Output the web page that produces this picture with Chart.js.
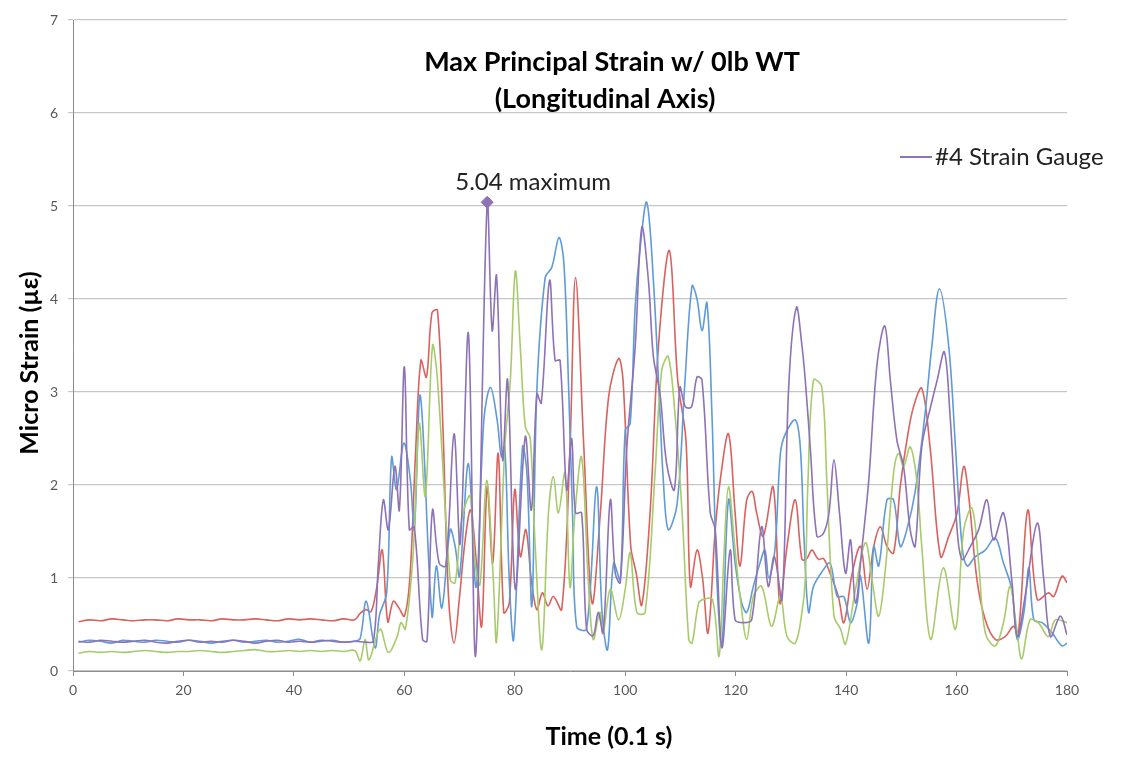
<!DOCTYPE html>
<html>
<head>
<meta charset="utf-8">
<script src="https://cdn.jsdelivr.net/npm/chart.js@4.4.1/dist/chart.umd.min.js"></script>
<style>
  html, body { margin: 0; padding: 0; background: #fff; }
  #wrap { position: relative; width: 1123px; height: 769px; }
</style>
</head>
<body>
<div id="wrap"><canvas id="strainChart"></canvas></div>
<script>
// [time (0.1 s), micro strain] pairs
const gauge1 = [[1,0.53],[3,0.55],[5,0.54],[7,0.56],[9,0.55],[11,0.54],[13,0.55],[15,0.55],[17,0.54],[19,0.56],[21,0.55],[23,0.55],[25,0.54],[27,0.56],[29,0.55],[31,0.55],[33,0.56],[35,0.55],[37,0.54],[39,0.56],[41,0.55],[43,0.56],[45,0.55],[47,0.54],[49,0.56],[51,0.55],
  [52,0.62],[53,0.66],[54,0.64],[55,0.9],[56,1.3],[57,0.53],[58,0.75],[59,0.68],[60,0.59],[61,1.0],[62,2.3],[63,3.34],[64,3.16],[65,3.85],[66,3.88],[67,2.6],[68,0.8],[69,0.3],[70,0.8],[71,1.4],
  [72,1.73],[73,1.2],[74,0.48],[75,1.98],[76,1.16],[77,2.34],[78,0.63],[79,0.73],[80,1.95],[81,1.23],[82,1.52],[83,0.98],[84,0.66],[85,0.84],[86,0.7],[87,0.8],
  [88.5,0.66],[90,2.41],[91,4.23],[92.5,2.41],[94,0.73],[95.5,1.7],[97,2.95],[98.8,3.36],[99.6,3.13],[101,1.34],[102,1.05],[103,0.71],[104.5,1.7],[106,3.48],[108,4.52],[109.5,3.13],[111,2.48],
  [111.8,0.91],[113,1.3],[114,1.0],[115,0.41],[116.3,1.52],[117.2,2.05],[118.7,2.55],[119.9,1.7],[120.8,1.13],[122,1.84],[123,1.93],[123.8,1.7],[125,1.45],[126.8,1.98],[128,0.73],[129.3,1.34],[130.8,1.84],[132,1.2],
  [132.9,1.21],[133.8,1.3],[135,1.2],[135.9,1.21],[137.1,1.05],[138.6,0.8],[139.6,0.52],[141.1,1.05],[142.6,1.34],[143.8,0.88],[145,1.34],[146.2,1.55],[147.4,1.34],[148.6,1.27],[149.8,1.98],[151,2.48],[152.2,2.84],
  [153.7,3.04],[155.2,2.41],[157.1,1.23],[158.6,1.45],[160.1,1.7],[161.3,2.2],[162.2,1.88],[163.7,0.98],[165.2,0.55],[167,0.34],[168.8,0.37],[170.3,0.48],[171.2,0.41],[172.9,1.73],[174.6,0.77],[176.7,0.84],[177.6,0.8],[179.1,1.02],[180,0.95]];

const gauge2 = [[1,0.31],[3,0.33],[5,0.32],[7,0.30],[9,0.33],[11,0.32],[13,0.31],[15,0.33],[17,0.32],[19,0.31],[21,0.33],[23,0.32],[25,0.30],[27,0.32],[29,0.33],[31,0.31],[33,0.32],[35,0.33],[37,0.31],[39,0.32],[41,0.34],[43,0.31],[45,0.32],[47,0.33],[49,0.31],[51,0.32],[52,0.35],
  [53.1,0.75],[54.7,0.25],[55.5,0.6],[56.8,0.84],[57.7,2.3],[58.6,1.95],[59.9,2.45],[61.1,2.05],[61.8,1.52],[62.9,2.96],[65,0.59],[65.8,1.13],[66.8,0.68],[68.3,1.52],[69.2,1.34],[70,1.02],[71.6,2.23],[73,0.9],
  [74.4,2.7],[75.6,3.05],[76.8,2.7],[77.6,2.3],[78.2,2.41],[79,0.98],[79.8,0.34],[81.4,2.41],[82.2,2.13],[83.1,0.7],[84,3.02],[85.5,4.23],[86.7,4.34],[88,4.66],[88.9,4.38],[89.8,2.95],[90.5,1.6],[91.2,0.48],
  [93,0.45],[94.8,1.98],[95.8,0.63],[96.8,0.23],[97.9,1.16],[99.1,0.98],[100,2.59],[100.9,2.66],[101.8,3.91],[102.7,4.55],[103.9,5.04],[105.1,4.2],[106.3,2.77],[106.9,2.05],[107.8,1.52],[109.4,1.8],[110.8,3.1],
  [112.1,4.14],[113,4.0],[113.9,3.66],[114.8,3.96],[115.7,2.77],[116.6,0.98],[117.5,0.27],[118.7,1.84],[119.9,1.16],[121.1,0.73],[122,0.63],[123.2,0.91],[124.4,1.16],[125.3,1.3],[126,1.0],[127.1,1.3],[128.1,2.34],[129,2.55],[130.8,2.7],[131.7,2.41],[132.4,1.4],
  [133.2,0.63],[134.1,0.91],[135.9,1.09],[137.1,1.16],[138.4,0.8],[139.6,0.8],[140.8,0.52],[142,0.73],[142.6,1.02],[144.1,0.3],[145,1.34],[145.9,1.13],[147.4,1.84],[148.6,1.84],[149.8,1.34],[151,1.52],[152.5,1.93],
  [154.3,2.77],[155.5,3.48],[156.9,4.11],[158.6,3.48],[159.8,2.41],[161,1.34],[161.9,1.13],[163.4,1.23],[165.2,1.3],[167,1.43],[168.5,1.16],[170,0.88],[171,0.34],[172.2,0.63],[173.1,1.11],[174,0.55],[175.5,0.52],[177.3,0.41],[179.1,0.27],[180,0.3]];

const gauge3 = [[1,0.19],[3,0.21],[5,0.20],[7,0.21],[9,0.20],[11,0.21],[13,0.22],[15,0.21],[17,0.20],[19,0.21],[21,0.21],[23,0.22],[25,0.21],[27,0.20],[29,0.21],[31,0.22],[33,0.23],[35,0.21],[37,0.21],[39,0.22],[41,0.21],[43,0.22],[45,0.21],[47,0.22],[49,0.21],[51,0.22],
  [52,0.11],[52.9,0.34],[53.6,0.12],[55.6,0.45],[57.1,0.2],[58.7,0.37],[59.4,0.52],[60.2,0.45],[61.6,1.27],[62.7,2.66],[63.8,1.88],[65.1,3.5],[66,3.13],[68.3,0.98],[69.2,0.95],[70.4,1.63],[71.9,1.88],[72.8,1.16],[73.7,0.93],
  [74.9,2.05],[76.1,1.0],[76.7,0.32],[78.2,2.41],[79.2,3.13],[80.1,4.3],[81,3.48],[81.9,2.63],[82.8,2.5],[83.7,1.34],[84.9,0.23],[86.1,1.7],[87,2.09],[87.9,1.7],[89.1,2.13],[90,0.9],[90.9,1.7],
  [92.1,2.3],[93.3,0.98],[94.2,0.34],[95.4,0.63],[96,0.41],[97.3,0.88],[98.8,0.55],[100,0.88],[100.9,1.27],[102.1,0.63],[103.6,0.63],[105.4,2.13],[106.6,3.23],[107.8,3.38],[109,2.77],[110.3,1.7],[111.5,0.34],
  [112.1,0.3],[113.3,0.73],[114.2,0.77],[115.8,0.77],[117,0.16],[117.9,1.27],[118.7,1.98],[119.9,1.3],[120.8,0.8],[122,0.34],[123.2,0.8],[124.7,0.91],[126.5,0.48],[128.1,0.8],[129.3,0.37],[130.8,0.3],[132,0.63],
  [132.6,0.98],[133.1,2.05],[134.1,3.13],[135.6,3.05],[136.5,2.05],[137.8,0.59],[139,0.45],[139.9,0.29],[141.7,0.88],[143.5,1.38],[144.7,0.98],[145.9,0.59],[147.1,1.09],[148.6,2.13],[149.5,2.34],[150.4,2.2],[151.6,2.41],[152.8,2.05],
  [153.7,1.34],[155.3,0.34],[157.6,1.11],[159.8,0.45],[161.3,1.52],[162.8,1.75],[164,1.16],[165.2,0.41],[167,0.27],[168.5,0.52],[169.7,0.91],[170.9,0.45],[171.8,0.13],[173.3,0.55],[174.8,0.52],[176.6,0.37],[177.9,0.55],[180,0.52]];

const gauge4 = [[1,0.32],[3,0.31],[5,0.33],[7,0.32],[9,0.31],[11,0.32],[13,0.33],[15,0.31],[17,0.30],[19,0.32],[21,0.33],[23,0.31],[25,0.32],[27,0.31],[29,0.33],[31,0.32],[33,0.30],[35,0.32],[37,0.33],[39,0.31],[41,0.32],[43,0.31],[45,0.33],[47,0.32],[49,0.31],[51,0.32],[53,0.31],[54.4,0.32],
  [55.3,1.16],[56.2,1.84],[57.1,1.52],[58.3,2.2],[59.1,1.73],[60,3.27],[60.9,1.52],[61.8,1.55],[63.3,0.34],[64.1,0.32],[65.1,1.73],[66.3,1.16],[67.5,1.13],[69,2.55],[70.1,1.37],[71.6,3.63],[72.9,0.16],
  [75,5.04],[75.9,3.66],[76.7,4.25],[77.8,2.27],[78.7,3.13],[80.1,0.88],[81.9,2.52],[83,1.73],[84,2.98],[84.8,2.88],[86.3,4.2],[87.3,3.34],[88.2,3.34],[89.4,1.95],[90.3,2.5],
  [91,1.7],[92.1,1.7],[93,0.45],[94.2,0.38],[95.1,0.63],[96,0.41],[97.3,1.84],[98.2,1.05],[99.1,0.95],[100.3,2.41],[101.8,3.48],[103,4.77],[104.2,4.2],[105.1,3.38],[106.3,2.98],[107.5,2.23],[108.9,1.95],[109.9,3.05],
  [110.9,2.84],[112,2.84],[113,3.16],[113.9,3.13],[115.4,1.7],[116.3,1.52],[117.5,0.25],[119,1.3],[119.9,0.55],[121.4,0.52],[122.9,0.55],[124.7,1.55],[125.9,0.91],[127,1.23],[128.4,0.77],[129.6,3.05],[131,3.91],
  [132,3.5],[132.6,3.13],[133.5,2.41],[134.7,1.45],[135.9,1.48],[136.9,1.7],[137.8,2.27],[138.8,1.7],[139.9,1.05],[140.8,1.41],[141.7,0.73],[142.9,1.34],[144.1,2.05],[145.6,3.3],[147,3.71],[148,3.13],[149.2,2.48],[150.4,2.2],[151.6,1.52],[152.5,1.34],
  [153.7,2.41],[155.3,2.84],[156.5,3.13],[157.8,3.43],[158.8,2.77],[160.1,1.52],[161,1.2],[162.5,1.34],[164,1.52],[165.5,1.84],[166.7,1.41],[168.5,1.7],[170,0.98],[171,0.37],[172.4,0.8],[174.6,1.59],[175.8,0.98],[177,0.37],[178.8,0.59],[180,0.39]];

const maxPoint = [75, 5.04];
const maxLabel = '5.04 maximum';
const titleLines = ['Max Principal Strain w/ 0lb WT', '(Longitudinal Axis)'];
const legendLabel = '#4 Strain Gauge';
const xTitle = 'Time (0.1 s)';
const yTitle = 'Micro Strain (\u00b5\u03b5)';
const yTicks = [0, 1, 2, 3, 4, 5, 6, 7];
const xTicks = [0, 20, 40, 60, 80, 100, 120, 140, 160, 180];

const RED = '#d9625e';
const BLUE = '#5f9bd6';
const GREEN = '#a7cb6b';
const PURPLE = '#8d72b6';
const FONT = 'Lato, "Open Sans", sans-serif';

function toPoints(pairs) {
    return pairs.map(function(p) { return { x: p[0], y: p[1] }; });
}

function lineSet(pairs, color) {
    return {
        data: toPoints(pairs),
        borderColor: color,
        backgroundColor: color,
        borderWidth: 1.6,
        pointRadius: 0,
        tension: 0.35,
        fill: false
    };
}

const overlayText = {
    id: 'overlayText',
    afterDraw: function(chart) {
        const ctx = chart.ctx;
        const xs = chart.scales.x;
        const ys = chart.scales.y;
        ctx.save();
        ctx.fillStyle = '#000';
        ctx.textAlign = 'center';
        ctx.textBaseline = 'middle';
        ctx.font = 'bold 27px ' + FONT;
        ctx.fillText(titleLines[0], 612, 62);
        ctx.fillText(titleLines[1], 605, 99);

        // axis titles
        ctx.font = 'bold 25px ' + FONT;
        ctx.fillText(xTitle, 609, 737);
        ctx.save();
        ctx.translate(30, 363);
        ctx.rotate(-Math.PI / 2);
        ctx.fillText(yTitle, 0, 0);
        ctx.restore();

        // legend (only series 4 shown)
        ctx.strokeStyle = PURPLE;
        ctx.lineWidth = 2;
        ctx.beginPath();
        ctx.moveTo(900, 157);
        ctx.lineTo(932, 157);
        ctx.stroke();
        ctx.font = '24px ' + FONT;
        ctx.fillStyle = '#222';
        ctx.textAlign = 'left';
        ctx.fillText(legendLabel, 935, 157);

        // max annotation
        ctx.textAlign = 'center';
        ctx.fillText(maxLabel, xs.getPixelForValue(maxPoint[0]) + 46, ys.getPixelForValue(maxPoint[1]) - 20);
        ctx.restore();
    }
};

new Chart(document.getElementById('strainChart'), {
    type: 'line',
    data: {
        datasets: [
            { type: 'scatter', data: [{ x: maxPoint[0], y: maxPoint[1] }], pointStyle: 'rectRot', pointRadius: 6, backgroundColor: PURPLE, borderColor: PURPLE, showLine: false },
            lineSet(gauge4, PURPLE),
            lineSet(gauge3, GREEN),
            lineSet(gauge2, BLUE),
            lineSet(gauge1, RED)
        ]
    },
    options: {
        responsive: true,
        maintainAspectRatio: false,
        animation: false,
        layout: { padding: { top: 20, right: 56, left: 0, bottom: 0 } },
        plugins: {
            legend: { display: false },
            tooltip: { enabled: false }
        },
        scales: {
            x: {
                type: 'linear',
                min: 0,
                max: 180,
                afterBuildTicks: function(s) { s.ticks = xTicks.map(function(v) { return { value: v }; }); },
                afterFit: function(s) { s.height = 98; },
                ticks: { color: '#595959', font: { family: FONT, size: 14 }, padding: 6 },
                grid: { drawOnChartArea: false, tickLength: 5, color: '#8c8c8c' },
                border: { color: '#8c8c8c' }
            },
            y: {
                min: 0,
                max: 7,
                afterBuildTicks: function(s) { s.ticks = yTicks.map(function(v) { return { value: v }; }); },
                afterFit: function(s) { s.width = 73; },
                ticks: { color: '#595959', font: { family: FONT, size: 14 }, padding: 10 },
                grid: { color: '#c6c6c6', tickLength: 5, lineWidth: 1.2 },
                border: { color: '#8c8c8c' }
            }
        }
    },
    plugins: [overlayText]
});
</script>
</body>
</html>
